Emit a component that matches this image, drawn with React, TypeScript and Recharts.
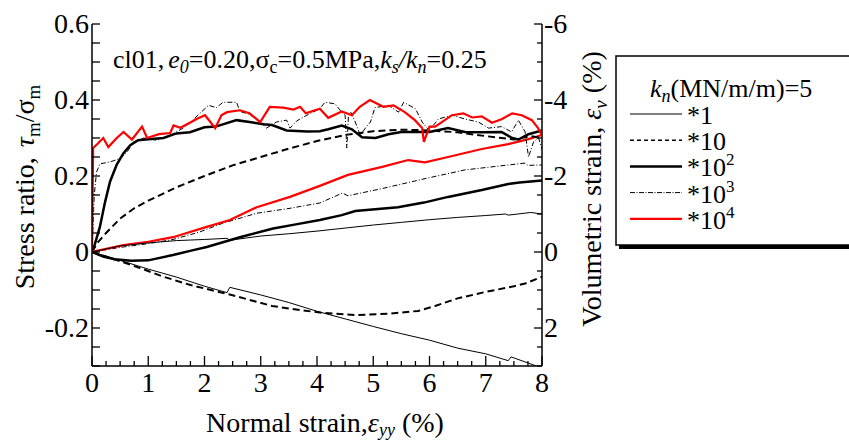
import React from "react";
import { LineChart, Line, XAxis, YAxis } from "recharts";

// stress ratio tau_m/sigma_m (left axis), [normal strain %, ratio]
const stressK1 = [[0, 0], [0.5, 0.016], [1, 0.024], [1.5, 0.03], [2, 0.033], [2.4, 0.036], [2.45, 0.031], [3, 0.042], [3.5, 0.048], [4, 0.055], [4.5, 0.063], [5, 0.071], [5.5, 0.078], [6, 0.085], [6.5, 0.091], [7, 0.096], [7.35, 0.1], [7.4, 0.097], [7.8, 0.104], [8, 0.1]];
const stressK10 = [[0, 0], [0.1, 0.025], [0.25, 0.05], [0.5, 0.088], [0.75, 0.115], [1, 0.135], [1.5, 0.17], [2, 0.2], [2.5, 0.228], [3, 0.25], [3.5, 0.272], [4, 0.292], [4.5, 0.308], [5, 0.318], [5.5, 0.322], [6, 0.32], [6.5, 0.315], [7, 0.305], [7.5, 0.296], [7.8, 0.305], [8, 0.3]];
const stressK100 = [[0, 0], [0.05, 0.02], [0.14, 0.066], [0.23, 0.13], [0.32, 0.185], [0.44, 0.23], [0.56, 0.26], [0.68, 0.281], [0.82, 0.294], [1, 0.297], [1.27, 0.3], [1.5, 0.312], [1.74, 0.315], [2, 0.328], [2.2, 0.33], [2.57, 0.347], [2.8, 0.342], [3.05, 0.336], [3.2, 0.334], [3.46, 0.32], [3.82, 0.317], [4.05, 0.318], [4.2, 0.323], [4.44, 0.333], [4.62, 0.323], [4.8, 0.302], [5.04, 0.3], [5.27, 0.31], [5.5, 0.316], [6, 0.316], [6.33, 0.326], [6.63, 0.316], [6.93, 0.315], [7.28, 0.316], [7.47, 0.3], [7.58, 0.296], [7.76, 0.31], [8, 0.32]];
const stressK1000 = [[0, 0], [0.04, 0.15], [0.08, 0.21], [0.14, 0.232], [0.32, 0.237], [0.5, 0.246], [0.62, 0.262], [0.74, 0.29], [0.92, 0.3], [1.15, 0.294], [1.39, 0.307], [1.62, 0.326], [1.74, 0.34], [1.92, 0.365], [2.07, 0.386], [2.21, 0.38], [2.33, 0.394], [2.57, 0.394], [2.63, 0.37], [2.8, 0.362], [2.99, 0.342], [3.1, 0.326], [3.28, 0.342], [3.46, 0.347], [3.52, 0.326], [3.64, 0.345], [3.82, 0.36], [4.05, 0.377], [4.14, 0.394], [4.32, 0.39], [4.44, 0.368], [4.5, 0.36], [4.53, 0.274], [4.56, 0.36], [4.6, 0.368], [4.68, 0.342], [4.77, 0.307], [4.86, 0.326], [4.95, 0.342], [5.03, 0.38], [5.27, 0.386], [5.45, 0.368], [5.54, 0.394], [5.75, 0.377], [5.87, 0.342], [5.99, 0.32], [6.16, 0.35], [6.4, 0.36], [6.63, 0.35], [6.87, 0.342], [7.05, 0.326], [7.28, 0.33], [7.46, 0.316], [7.58, 0.347], [7.7, 0.316], [7.76, 0.25], [7.85, 0.29], [7.94, 0.3], [8, 0.27]];
const stressK10000 = [[0, 0], [0.02, 0.274], [0.1, 0.285], [0.2, 0.3], [0.29, 0.276], [0.44, 0.3], [0.56, 0.316], [0.71, 0.296], [0.89, 0.33], [0.98, 0.3], [1.19, 0.31], [1.39, 0.313], [1.45, 0.333], [1.57, 0.327], [1.74, 0.34], [1.86, 0.35], [2.01, 0.36], [2.19, 0.326], [2.3, 0.36], [2.4, 0.368], [2.63, 0.373], [2.8, 0.365], [2.99, 0.342], [3.16, 0.382], [3.4, 0.38], [3.58, 0.375], [3.7, 0.382], [3.8, 0.365], [4.05, 0.377], [4.2, 0.353], [4.44, 0.37], [4.62, 0.36], [4.76, 0.382], [4.94, 0.4], [5.18, 0.382], [5.36, 0.386], [5.56, 0.368], [5.74, 0.347], [5.87, 0.326], [5.9, 0.29], [6, 0.33], [6.1, 0.33], [6.2, 0.34], [6.4, 0.36], [6.6, 0.365], [6.76, 0.354], [6.93, 0.357], [7.11, 0.34], [7.29, 0.35], [7.47, 0.365], [7.64, 0.36], [7.82, 0.347], [7.93, 0.326], [8, 0.307]];

// volumetric strain eps_v % (right axis, reversed)
const volK1 = [[0, 0], [0.5, 0.22], [1, 0.45], [1.5, 0.66], [2, 0.9], [2.4, 1.07], [2.45, 0.93], [3, 1.13], [3.5, 1.33], [4, 1.56], [4.5, 1.76], [5, 1.96], [5.5, 2.15], [6, 2.32], [6.5, 2.53], [7, 2.68], [7.4, 2.86], [7.45, 2.76], [7.9, 3.0], [8, 3.05]];
const volK10 = [[0, 0], [0.5, 0.24], [0.85, 0.42], [1.25, 0.64], [1.75, 0.87], [2.45, 1.12], [3.2, 1.42], [3.7, 1.53], [4.1, 1.6], [4.7, 1.66], [5.3, 1.62], [5.8, 1.55], [6.1, 1.42], [6.5, 1.22], [7, 1.05], [7.5, 0.9], [7.7, 0.83], [8, 0.65]];
const volK100 = [[0, 0], [0.2, 0.12], [0.4, 0.19], [0.7, 0.23], [1, 0.22], [1.44, 0.08], [1.8, -0.05], [2.04, -0.13], [2.63, -0.39], [3.22, -0.62], [3.6, -0.72], [4.05, -0.84], [4.44, -0.97], [4.68, -1.08], [5.44, -1.18], [5.9, -1.3], [6.33, -1.45], [6.93, -1.63], [7.4, -1.79], [7.6, -1.83], [8, -1.88]];
const volK1000 = [[0, 0], [0.5, -0.12], [1, -0.22], [1.44, -0.33], [1.9, -0.52], [2.33, -0.76], [2.93, -1.02], [3.52, -1.15], [4.05, -1.29], [4.45, -1.55], [4.55, -1.48], [5.16, -1.67], [5.92, -1.93], [6.63, -2.16], [7.4, -2.29], [7.7, -2.34], [7.75, -2.28], [8, -2.29]];
const volK10000 = [[0, 0], [0.56, -0.18], [1, -0.27], [1.44, -0.39], [2.04, -0.66], [2.45, -0.84], [2.93, -1.18], [3.52, -1.45], [4.05, -1.74], [4.55, -2.03], [5.16, -2.24], [5.62, -2.42], [5.92, -2.36], [6.33, -2.5], [6.93, -2.71], [7.4, -2.84], [7.76, -2.97], [8, -3.08]];

const leftLabels = [-0.2, 0, 0.2, 0.4, 0.6];
const rightLabels = [-6, -4, -2, 0, 2];
const xLabels = [0, 1, 2, 3, 4, 5, 6, 7, 8];
const legendNames = ["*1", "*10", "*10", "*10", "*10"];
const legendPowers = ["", "", "2", "3", "4"];

const FONT = "'Liberation Serif', 'Times New Roman', serif";

const styles = [
  { stroke: "#000", width: 1, dash: undefined, legendDash: undefined },
  { stroke: "#000", width: 2, dash: "7 4", legendDash: "4 3" },
  { stroke: "#000", width: 2.5, dash: undefined, legendDash: undefined },
  { stroke: "#000", width: 1, dash: "5 2 1 2", legendDash: "5 1.5 1 1.5" },
  { stroke: "#ff0000", width: 2.2, dash: undefined, legendDash: undefined },
];

const stressSets = [stressK1, stressK10, stressK100, stressK1000, stressK10000];
const volSets = [volK1, volK10, volK100, volK1000, volK10000];

const toPts = (arr: number[][]) => arr.map(([x, y]) => ({ x, y }));

const steps = (from: number, to: number, step: number) => {
  const out: number[] = [];
  const n = Math.round((to - from) / step);
  for (let i = 0; i <= n; i++) out.push(Math.round((from + i * step) * 1000) / 1000);
  return out;
};

const near = (list: number[], v: number) => list.find((l) => Math.abs(l - v) < 1e-6);

const LeftTick = (p: any) => {
  const { x, y, payload } = p;
  const lab = near(leftLabels, payload.value);
  return (
    <g>
      <line x1={x} x2={x + 8} y1={y} y2={y} stroke="#000" strokeWidth={1.3} />
      {lab !== undefined && (
        <text x={x - 3} y={y + 9} textAnchor="end" fontSize={28} fontFamily={FONT} fill="#000">
          {String(lab)}
        </text>
      )}
    </g>
  );
};

const RightTick = (p: any) => {
  const { x, y, payload } = p;
  const lab = near(rightLabels, payload.value);
  return (
    <g>
      <line x1={x} x2={x - (lab !== undefined ? 8 : 5)} y1={y} y2={y} stroke="#000" strokeWidth={1.3} />
      {lab !== undefined && (
        <text x={x + 2} y={y + 9} textAnchor="start" fontSize={28} fontFamily={FONT} fill="#000">
          {String(lab)}
        </text>
      )}
    </g>
  );
};

const BottomTick = (p: any) => {
  const { x, y, payload } = p;
  const lab = near(xLabels, payload.value);
  return (
    <g>
      <line x1={x} x2={x} y1={y} y2={y - (lab !== undefined ? 10 : 5)} stroke="#000" strokeWidth={1.3} />
      {lab !== undefined && (
        <text x={x} y={y + 26} textAnchor="middle" fontSize={28} fontFamily={FONT} fill="#000">
          {String(lab)}
        </text>
      )}
    </g>
  );
};

const TopTick = (p: any) => {
  const { x, y, payload } = p;
  const major = near(xLabels, payload.value) !== undefined;
  return <line x1={x} x2={x} y1={y} y2={y + (major ? 10 : 5)} stroke="#000" strokeWidth={1.3} />;
};

const LeftTitle = () => (
  <text transform="translate(34,187) rotate(-90)" textAnchor="middle" fontSize={28} fontFamily={FONT} fill="#000">
    Stress ratio,
    <tspan fontStyle="italic" dx={10}>τ</tspan>
    <tspan fontSize={19} dy={6}>m</tspan>
    <tspan dy={-6}>/σ</tspan>
    <tspan fontSize={19} dy={6}>m</tspan>
  </text>
);

const RightTitle = () => (
  <text transform="translate(601,189) rotate(-90)" textAnchor="middle" fontSize={28} fontFamily={FONT} fill="#000">
    Volumetric strain,{" "}
    <tspan fontStyle="italic">ε</tspan>
    <tspan fontSize={19} fontStyle="italic" dy={6}>v</tspan>
    <tspan dy={-6}> (%)</tspan>
  </text>
);

const BottomTitle = () => (
  <text x={325} y={432} textAnchor="middle" fontSize={28} fontFamily={FONT} fill="#000">
    Normal strain,
    <tspan fontStyle="italic">ε</tspan>
    <tspan fontSize={18} fontStyle="italic" dy={4}>yy</tspan>
    <tspan dy={-4}> (%)</tspan>
  </text>
);

const Overlay = () => (
  <svg width={849} height={443} style={{ position: "absolute", left: 0, top: 0, pointerEvents: "none" }}>
    <text x={113} y={68} fontSize={26} fontFamily={FONT} fill="#000">
      cl01,
      <tspan fontStyle="italic" dx={4}>e</tspan>
      <tspan fontStyle="italic" fontSize={18} dy={5}>0</tspan>
      <tspan dy={-5}>=0.20,σ</tspan>
      <tspan fontSize={18} dy={5}>c</tspan>
      <tspan dy={-5}>=0.5MPa,</tspan>
      <tspan fontStyle="italic">k</tspan>
      <tspan fontStyle="italic" fontSize={18} dy={5}>s</tspan>
      <tspan fontStyle="italic" dy={-5}>/k</tspan>
      <tspan fontStyle="italic" fontSize={18} dy={5}>n</tspan>
      <tspan dy={-5}>=0.25</tspan>
    </text>

    <rect x={619} y={245} width={240} height={4} fill="#000" />
    <rect x={616} y={56} width={260} height={189} fill="#fff" stroke="#000" strokeWidth={1.5} />
    <text x={650} y={97} fontSize={26} fontFamily={FONT} fill="#000">
      <tspan fontStyle="italic">k</tspan>
      <tspan fontStyle="italic" fontSize={18} dy={5}>n</tspan>
      <tspan dy={-5}>(MN/m/m)=5</tspan>
    </text>
    {styles.map((s, i) => {
      const ly = 114 + i * 26.2;
      return (
        <g key={i}>
          <line x1={630} x2={682} y1={ly} y2={ly} stroke={s.stroke} strokeWidth={s.width === 2 ? 1.5 : s.width} strokeDasharray={s.legendDash} />
          <text x={687} y={ly + 10} fontSize={26} fontFamily={FONT} fill="#000">
            {legendNames[i]}
            {legendPowers[i] && (
              <tspan fontSize={17} dy={-11}>{legendPowers[i]}</tspan>
            )}
          </text>
        </g>
      );
    })}
  </svg>
);

export default function App() {
  return (
    <div style={{ position: "absolute", left: 0, top: 0, width: 849, height: 443, background: "#fff" }}>
      <LineChart
        width={849}
        height={443}
        margin={{ top: 24, right: 247, bottom: 27, left: 32 }}
        style={{ fontFamily: FONT }}
      >
        <XAxis
          dataKey="x"
          type="number"
          domain={[0, 8]}
          ticks={steps(0, 8, 0.25)}
          interval={0}
          height={50}
          tickSize={0}
          tickMargin={0}
          tickLine={false}
          tick={BottomTick}
          axisLine={{ stroke: "#000", strokeWidth: 1.5 }}
          allowDataOverflow
          label={BottomTitle}
        />
        <XAxis
          xAxisId="top"
          orientation="top"
          dataKey="x"
          type="number"
          domain={[0, 8]}
          ticks={steps(0, 8, 0.25)}
          interval={0}
          height={0}
          tickSize={0}
          tickMargin={0}
          tickLine={false}
          tick={TopTick}
          axisLine={{ stroke: "#000", strokeWidth: 1.5 }}
        />
        <YAxis
          yAxisId="left"
          type="number"
          domain={[-0.3, 0.6]}
          ticks={steps(-0.3, 0.6, 0.05)}
          interval={0}
          width={60}
          tickSize={0}
          tickMargin={0}
          tickLine={false}
          tick={LeftTick}
          axisLine={{ stroke: "#000", strokeWidth: 1.5 }}
          allowDataOverflow
          label={LeftTitle}
        />
        <YAxis
          yAxisId="right"
          orientation="right"
          type="number"
          domain={[-6, 3]}
          reversed
          ticks={steps(-6, 3, 0.5)}
          interval={0}
          width={60}
          tickSize={0}
          tickMargin={0}
          tickLine={false}
          tick={RightTick}
          axisLine={{ stroke: "#000", strokeWidth: 1.5 }}
          allowDataOverflow
          label={RightTitle}
        />
        {volSets.map((d, i) => (
          <Line
            key={"v" + i}
            yAxisId="right"
            data={toPts(d)}
            dataKey="y"
            type="linear"
            stroke={styles[i].stroke}
            strokeWidth={styles[i].width}
            strokeDasharray={styles[i].dash}
            dot={false}
            isAnimationActive={false}
          />
        ))}
        {stressSets.map((d, i) => (
          <Line
            key={"s" + i}
            yAxisId="left"
            data={toPts(d)}
            dataKey="y"
            type="linear"
            stroke={styles[i].stroke}
            strokeWidth={styles[i].width}
            strokeDasharray={styles[i].dash}
            dot={false}
            isAnimationActive={false}
          />
        ))}
      </LineChart>
      <Overlay />
    </div>
  );
}
